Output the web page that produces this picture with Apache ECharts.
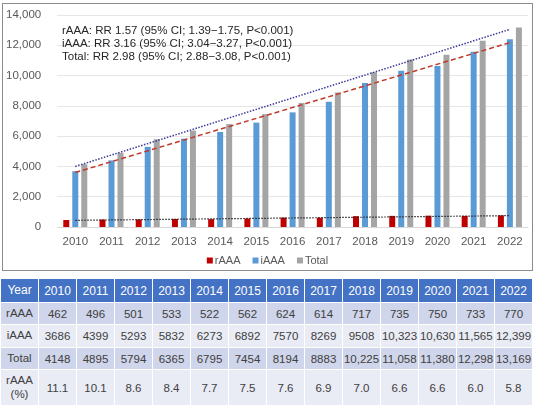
<!DOCTYPE html>
<html><head><meta charset="utf-8">
<script src="https://cdn.jsdelivr.net/npm/echarts@6/dist/echarts.min.js"></script>
<style>
html,body{margin:0;padding:0;background:#fff;width:538px;height:405px;overflow:hidden;font-family:"Liberation Sans",Arial,sans-serif;}
#box{position:absolute;left:2px;top:3px;width:529px;height:266px;border:1px solid #8c8c8c;}
#chart{width:529px;height:266px;}
#tbl{position:absolute;left:0;top:278px;width:533px;border-collapse:collapse;table-layout:fixed;font-size:11.5px;color:#404040;}
#tbl td{border:1px solid #fff;text-align:center;padding:0;white-space:nowrap;overflow:hidden;}
#tbl tr.h td{background:#4472C4;color:#fff;font-size:12px;}
#tbl tr.d td{background:#CFD5EA;}
#tbl tr.l td{background:#E9EBF5;}
</style></head>
<body>
<div id="box"><div id="chart"></div></div>
<table id="tbl"></table>
<script>
const years = ['2010','2011','2012','2013','2014','2015','2016','2017','2018','2019','2020','2021','2022'];
const rAAA = [462,496,501,533,522,562,624,614,717,735,750,733,770];
const iAAA = [3686,4399,5293,5832,6273,6892,7570,8269,9508,10323,10630,11565,12399];
const total = [4148,4895,5794,6365,6795,7454,8194,8883,10225,11058,11380,12298,13169];
const rAAApct = [11.1,10.1,8.6,8.4,7.7,7.5,7.6,6.9,7.0,6.6,6.6,6.0,5.8];
// trend line end points (first year, last year)
const trendR = [440,750];
const trendI = [3600,12180];
const trendT = [4000,13050];
const yTicks = {min:0,max:14000,interval:2000};
const notes = [
 'rAAA: RR 1.57 (95% CI; 1.39\u22121.75, P<0.001)',
 'iAAA: RR 3.16 (95% CI; 3.04\u22123.27, P<0.001)',
 'Total: RR 2.98 (95% CI; 2.88\u22123.08, P<0.001)'
];

function trendData(ends){
  const d = years.map(()=>null);
  d[0]=ends[0]; d[d.length-1]=ends[1];
  return d;
}
const font = '"Liberation Sans",Arial,sans-serif';
const chart = echarts.init(document.getElementById('chart'));
chart.setOption({
  animation:false,
  textStyle:{fontFamily:font},
  grid:{left:49,right:4,top:11,bottom:43},
  legend:{
    data:['rAAA','iAAA','Total'],
    top:246,left:'center',itemWidth:6,itemHeight:6,itemGap:12,
    icon:'rect',
    textStyle:{fontSize:11,color:'#595959',fontFamily:font,padding:[0,0,0,-3]}
  },
  xAxis:{
    type:'category',data:years,
    axisLine:{lineStyle:{color:'#d9d9d9'}},
    axisTick:{show:false},
    axisLabel:{fontSize:11.5,color:'#595959',margin:9}
  },
  yAxis:{
    type:'value',min:yTicks.min,max:yTicks.max,interval:yTicks.interval,
    axisLabel:{fontSize:11.5,color:'#595959',margin:16},
    splitLine:{lineStyle:{color:'#e6e6e6'}}
  },
  graphic:notes.map((t,i)=>({
    type:'text',left:59,top:21+i*13,z:10,
    style:{text:t,fontSize:11.5,fill:'#262626',fontFamily:font}
  })),
  series:[
    {name:'rAAA',type:'bar',data:rAAA,barWidth:6,barGap:'50%',itemStyle:{color:'#C00000'}},
    {name:'iAAA',type:'bar',data:iAAA,barWidth:6,barGap:'50%',itemStyle:{color:'#5B9BD5'}},
    {name:'Total',type:'bar',data:total,barWidth:6,barGap:'50%',itemStyle:{color:'#A5A5A5'}},
    {name:'trendR',type:'line',data:trendData(trendR),connectNulls:true,symbol:'none',z:5,
      lineStyle:{color:'#222',width:1.2,type:[1.5,1.5]}},
    {name:'trendI',type:'line',data:trendData(trendI),connectNulls:true,symbol:'none',z:5,
      lineStyle:{color:'#C0392B',width:1.5,type:[5,3]}},
    {name:'trendT',type:'line',data:trendData(trendT),connectNulls:true,symbol:'none',z:5,
      lineStyle:{color:'#3B3B9A',width:1.5,type:[1.5,1.5]}}
  ]
});

// table
function fmt(v){return v>=10000? v.toLocaleString('en-US') : String(v);}
const rows = [
  {cls:'h',label:'Year',cells:years,h:23},
  {cls:'d',label:'rAAA',cells:rAAA.map(fmt),h:21},
  {cls:'l',label:'iAAA',cells:iAAA.map(fmt),h:22},
  {cls:'d',label:'Total',cells:total.map(fmt),h:21},
  {cls:'l',label:'rAAA<br>(%)',cells:rAAApct.map(v=>v.toFixed(1)),h:36}
];
const tbl = document.getElementById('tbl');
let html = '<colgroup>' + '<col style="width:38px">'.repeat(years.length+1) + '</colgroup>';
rows.forEach(r=>{
  html += '<tr class="'+r.cls+'"><td style="height:'+r.h+'px;line-height:1.2">'+r.label+'</td>' +
    r.cells.map(c=>'<td style="height:'+r.h+'px">'+c+'</td>').join('') + '</tr>';
});
tbl.innerHTML = html;
</script>
</body></html>
